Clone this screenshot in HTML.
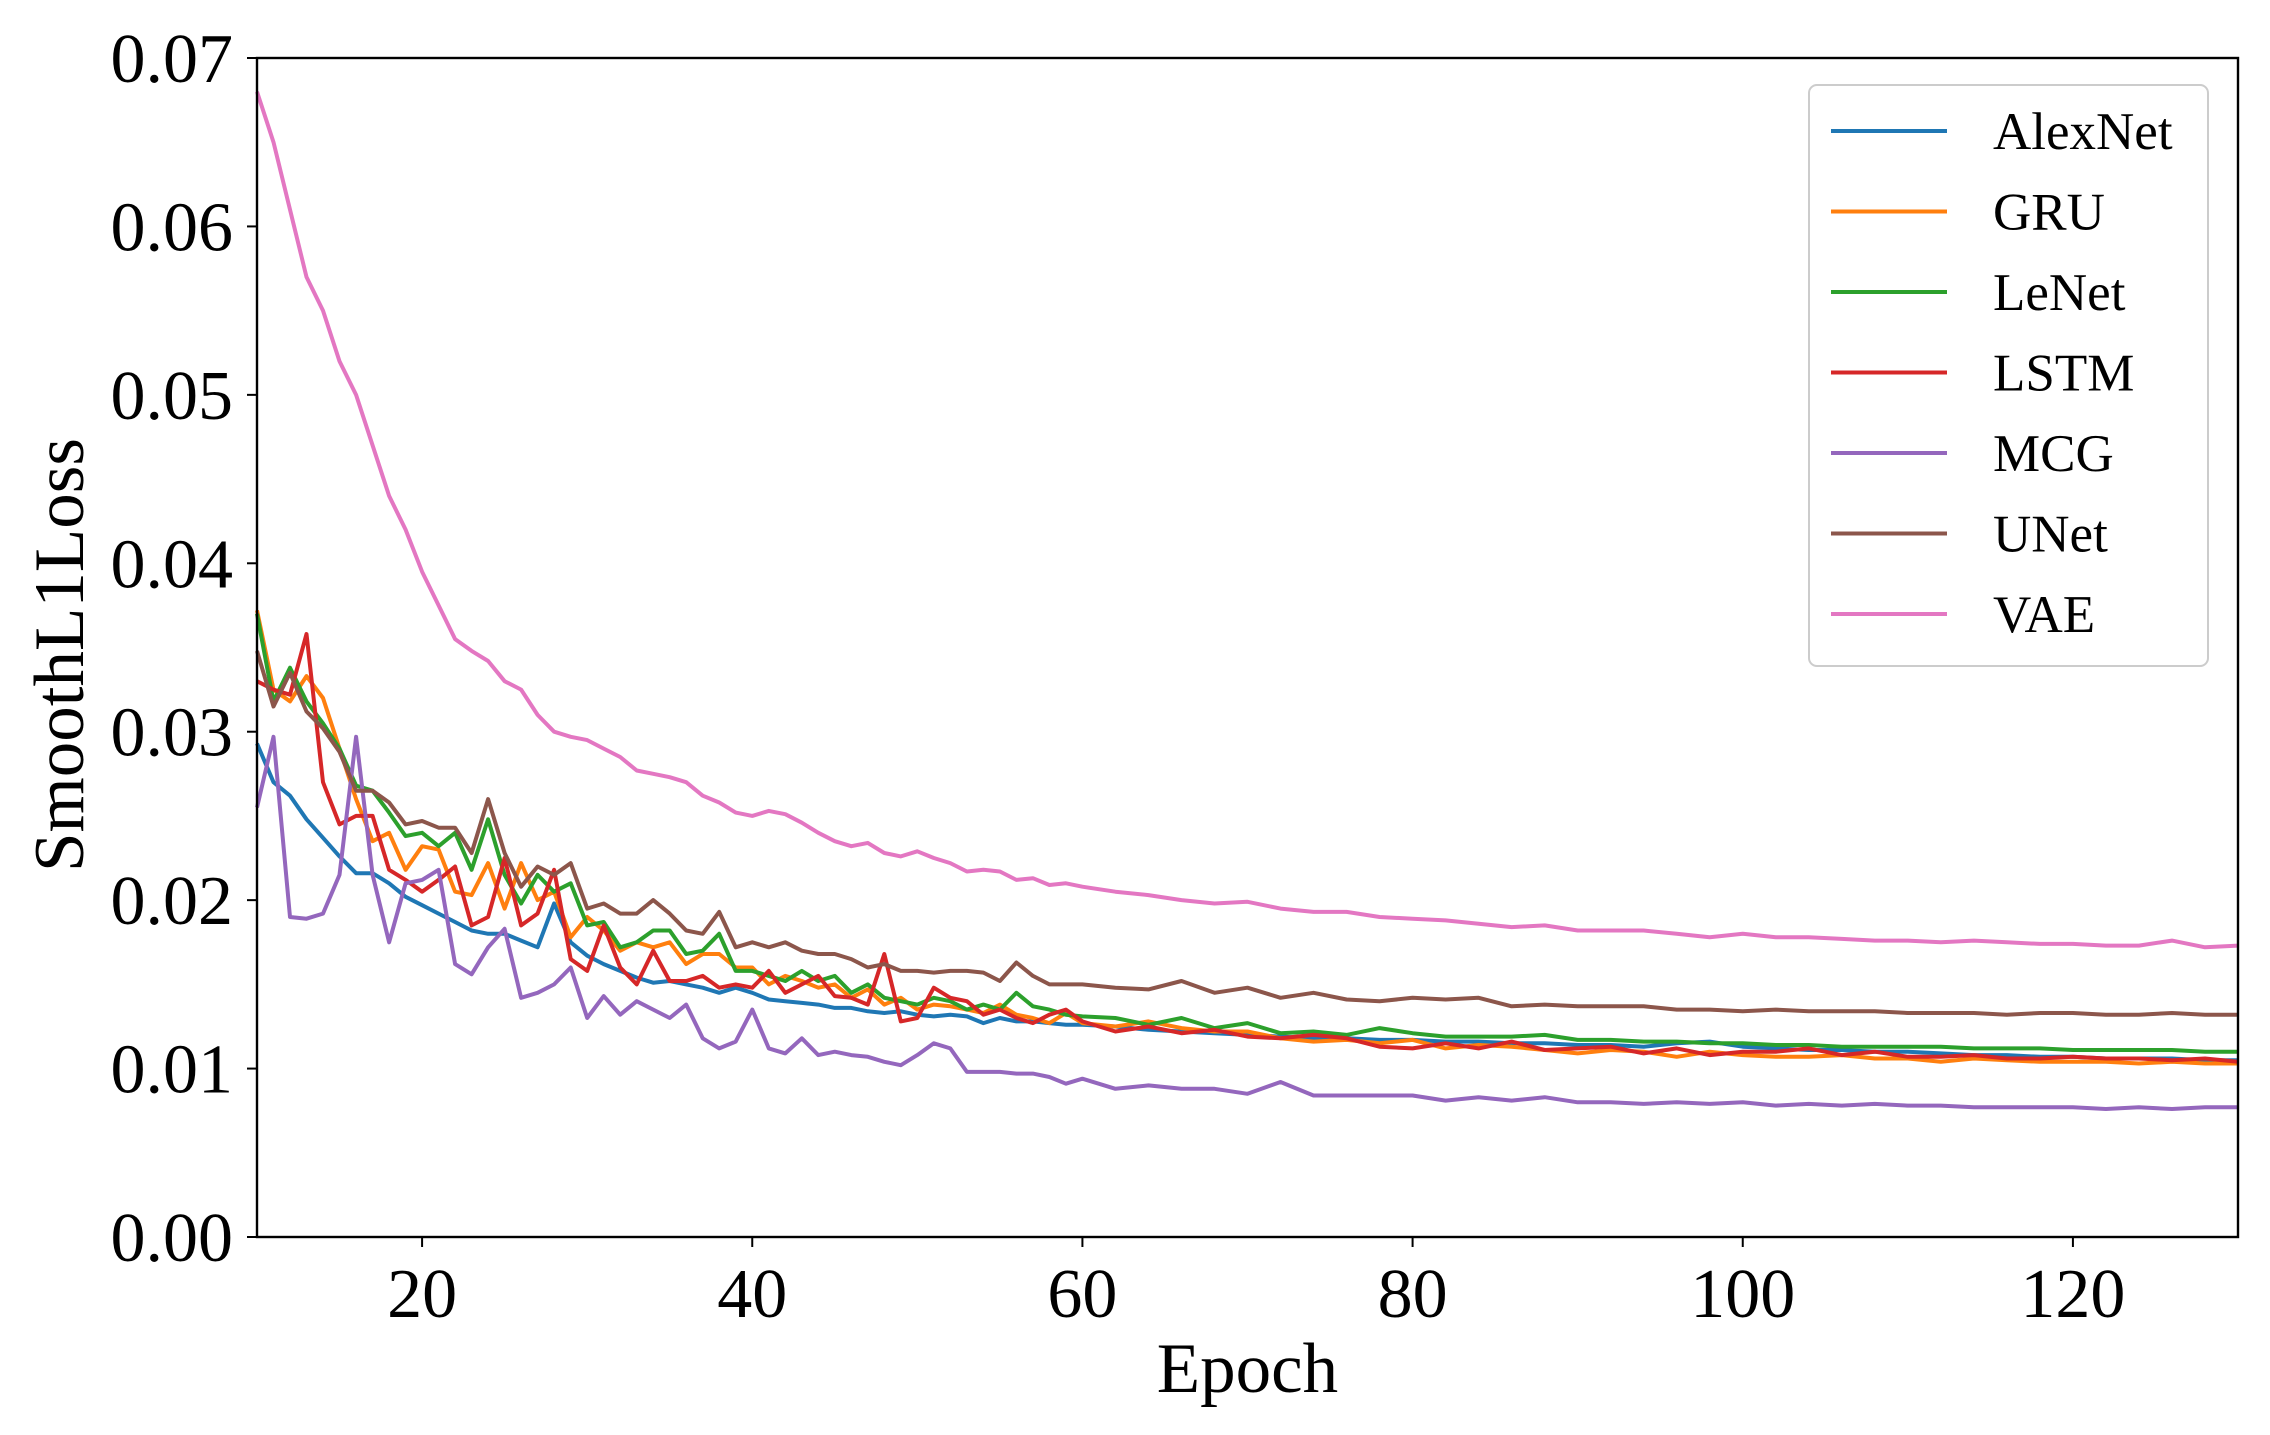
<!DOCTYPE html>
<html><head><meta charset="utf-8"><style>
html,body{margin:0;padding:0;background:#fff;}
svg{display:block;font-family:"Liberation Serif",serif;}
</style></head><body>
<svg id="chart" width="2270" height="1435" viewBox="0 0 2270 1435">
<g id="plot"></g>
</svg>
<script>
const seriesNames = ["AlexNet","GRU","LeNet","LSTM","MCG","UNet","VAE"];
const seriesColors = ["#1f77b4","#ff7f0e","#2ca02c","#d62728","#9467bd","#8c564b","#e377c2"];
const xTicks = [20,40,60,80,100,120];
const yTicks = [0,0.01,0.02,0.03,0.04,0.05,0.06,0.07];
const yTickLabels = ["0.00","0.01","0.02","0.03","0.04","0.05","0.06","0.07"];
const epochsA = [10,11,12,13,14,15,16,17,18,19,20,21,22,23,24,25,26,27,28,29,30,31,32,33,34,35,36,37,38,39,40,41,42,43,44,45,46,47,48,49,50,51,52,53,54,55,56,57,58,59,60];
const epochsB = [62,64,66,68,70,72,74,76,78,80,82,84,86,88,90,92,94,96,98,100,102,104,106,108,110,112,114,116,118,120,122,124,126,128,130];
const epochs = epochsA.concat(epochsB);
const alexnet = [0.0293,0.027,0.0262,0.0248,0.0237,0.0226,0.0216,0.0216,0.021,0.0202,0.0197,0.0192,0.0187,0.0182,0.018,0.018,0.0176,0.0172,0.0198,0.0175,0.0167,0.0162,0.0158,0.0154,0.0151,0.0152,0.015,0.0148,0.0145,0.0148,0.0145,0.0141,0.014,0.0139,0.0138,0.0136,0.0136,0.0134,0.0133,0.0134,0.0132,0.0131,0.0132,0.0131,0.0127,0.013,0.0128,0.0128,0.0127,0.0126,0.0126,
0.0125,0.0123,0.0122,0.0121,0.012,0.0119,0.0118,0.0118,0.0117,0.0117,0.0116,0.0116,0.0115,0.0115,0.0114,0.0114,0.0113,0.0115,0.0116,0.0113,0.0112,0.0111,0.0111,0.011,0.011,0.0109,0.0108,0.0108,0.0107,0.0107,0.0106,0.0106,0.0106,0.0105,0.0105];
const gru = [0.0372,0.0325,0.0318,0.0333,0.032,0.029,0.026,0.0235,0.024,0.0218,0.0232,0.023,0.0205,0.0203,0.0222,0.0195,0.0222,0.02,0.0205,0.0178,0.019,0.0182,0.017,0.0175,0.0172,0.0175,0.0162,0.0168,0.0168,0.016,0.016,0.015,0.0155,0.0152,0.0148,0.015,0.0142,0.0147,0.0138,0.0142,0.0135,0.0138,0.0137,0.0135,0.0133,0.0138,0.0132,0.013,0.0127,0.0133,0.0127,
0.0125,0.0128,0.0124,0.0122,0.0122,0.0118,0.0116,0.0117,0.0115,0.0117,0.0112,0.0114,0.0113,0.0111,0.0109,0.0111,0.011,0.0107,0.011,0.0108,0.0107,0.0107,0.0108,0.0106,0.0106,0.0104,0.0106,0.0105,0.0104,0.0104,0.0104,0.0103,0.0104,0.0103,0.0103];
const lenet = [0.037,0.0318,0.0338,0.0318,0.0305,0.029,0.0268,0.0265,0.0252,0.0238,0.024,0.0232,0.024,0.0218,0.0248,0.0215,0.0198,0.0215,0.0205,0.021,0.0185,0.0187,0.0172,0.0175,0.0182,0.0182,0.0168,0.017,0.018,0.0158,0.0158,0.0155,0.0152,0.0158,0.0152,0.0155,0.0145,0.015,0.0142,0.014,0.0138,0.0142,0.014,0.0135,0.0138,0.0135,0.0145,0.0137,0.0135,0.0132,0.0131,
0.013,0.0126,0.013,0.0124,0.0127,0.0121,0.0122,0.012,0.0124,0.0121,0.0119,0.0119,0.0119,0.012,0.0117,0.0117,0.0116,0.0116,0.0115,0.0115,0.0114,0.0114,0.0113,0.0113,0.0113,0.0113,0.0112,0.0112,0.0112,0.0111,0.0111,0.0111,0.0111,0.011,0.011];
const lstm = [0.033,0.0325,0.0322,0.0358,0.027,0.0245,0.025,0.025,0.0218,0.0212,0.0205,0.0212,0.022,0.0185,0.019,0.0225,0.0185,0.0192,0.0218,0.0165,0.0158,0.0185,0.016,0.015,0.017,0.0152,0.0152,0.0155,0.0148,0.015,0.0148,0.0158,0.0145,0.015,0.0155,0.0143,0.0142,0.0138,0.0168,0.0128,0.013,0.0148,0.0142,0.014,0.0132,0.0135,0.013,0.0127,0.0132,0.0135,0.0128,
0.0122,0.0125,0.0121,0.0123,0.0119,0.0118,0.012,0.0118,0.0113,0.0112,0.0115,0.0112,0.0116,0.0111,0.0112,0.0113,0.0109,0.0112,0.0108,0.011,0.011,0.0112,0.0108,0.011,0.0107,0.0107,0.0108,0.0106,0.0106,0.0107,0.0106,0.0106,0.0105,0.0106,0.0104];
const mcg = [0.0255,0.0297,0.019,0.0189,0.0192,0.0215,0.0297,0.0215,0.0175,0.021,0.0212,0.0218,0.0162,0.0156,0.0172,0.0183,0.0142,0.0145,0.015,0.016,0.013,0.0143,0.0132,0.014,0.0135,0.013,0.0138,0.0118,0.0112,0.0116,0.0135,0.0112,0.0109,0.0118,0.0108,0.011,0.0108,0.0107,0.0104,0.0102,0.0108,0.0115,0.0112,0.0098,0.0098,0.0098,0.0097,0.0097,0.0095,0.0091,0.0094,
0.0088,0.009,0.0088,0.0088,0.0085,0.0092,0.0084,0.0084,0.0084,0.0084,0.0081,0.0083,0.0081,0.0083,0.008,0.008,0.0079,0.008,0.0079,0.008,0.0078,0.0079,0.0078,0.0079,0.0078,0.0078,0.0077,0.0077,0.0077,0.0077,0.0076,0.0077,0.0076,0.0077,0.0077];
const unet = [0.0348,0.0315,0.0335,0.0312,0.0302,0.0288,0.0265,0.0265,0.0258,0.0245,0.0247,0.0243,0.0243,0.0228,0.026,0.0228,0.0208,0.022,0.0215,0.0222,0.0195,0.0198,0.0192,0.0192,0.02,0.0192,0.0182,0.018,0.0193,0.0172,0.0175,0.0172,0.0175,0.017,0.0168,0.0168,0.0165,0.016,0.0162,0.0158,0.0158,0.0157,0.0158,0.0158,0.0157,0.0152,0.0163,0.0155,0.015,0.015,0.015,
0.0148,0.0147,0.0152,0.0145,0.0148,0.0142,0.0145,0.0141,0.014,0.0142,0.0141,0.0142,0.0137,0.0138,0.0137,0.0137,0.0137,0.0135,0.0135,0.0134,0.0135,0.0134,0.0134,0.0134,0.0133,0.0133,0.0133,0.0132,0.0133,0.0133,0.0132,0.0132,0.0133,0.0132,0.0132];
const vae = [0.068,0.065,0.061,0.057,0.055,0.052,0.05,0.047,0.044,0.042,0.0395,0.0375,0.0355,0.0348,0.0342,0.033,0.0325,0.031,0.03,0.0297,0.0295,0.029,0.0285,0.0277,0.0275,0.0273,0.027,0.0262,0.0258,0.0252,0.025,0.0253,0.0251,0.0246,0.024,0.0235,0.0232,0.0234,0.0228,0.0226,0.0229,0.0225,0.0222,0.0217,0.0218,0.0217,0.0212,0.0213,0.0209,0.021,0.0208,
0.0205,0.0203,0.02,0.0198,0.0199,0.0195,0.0193,0.0193,0.019,0.0189,0.0188,0.0186,0.0184,0.0185,0.0182,0.0182,0.0182,0.018,0.0178,0.018,0.0178,0.0178,0.0177,0.0176,0.0176,0.0175,0.0176,0.0175,0.0174,0.0174,0.0173,0.0173,0.0176,0.0172,0.0173];
const seriesValues = [alexnet,gru,lenet,lstm,mcg,unet,vae];

const L=257,R=2238,T=58,B=1237, XMIN=10,XMAX=130,YMIN=0,YMAX=0.07;
function xs(v){return L+(v-XMIN)/(XMAX-XMIN)*(R-L);}
function ys(v){return B-(v-YMIN)/(YMAX-YMIN)*(B-T);}
const NS="http://www.w3.org/2000/svg";
const plot=document.getElementById('plot');
function mk(tag,attrs,parent){const e=document.createElementNS(NS,tag);for(const k in attrs)e.setAttribute(k,attrs[k]);(parent||plot).appendChild(e);return e;}

seriesValues.forEach((vals,i)=>{
  const d=vals.map((v,j)=>(j?'L':'M')+xs(epochs[j]).toFixed(1)+','+ys(v).toFixed(1)).join(' ');
  const p=mk('path',{d:d,fill:'none',stroke:seriesColors[i],'stroke-width':4,'stroke-linejoin':'round'});
  
  
});
const fr=mk('rect',{x:L,y:T,width:R-L,height:B-T,fill:'none',stroke:'#000','stroke-width':2.4});


xTicks.forEach(t=>{
  const g=mk('g',{});
  
  
  mk('line',{x1:xs(t),x2:xs(t),y1:B,y2:B+10,stroke:'#000','stroke-width':2},g);
  const tx=mk('text',{x:xs(t),y:B+80,'text-anchor':'middle','font-size':70},g);
  tx.textContent=t;
});
yTicks.forEach((t,i)=>{
  const g=mk('g',{});
  
  
  mk('line',{x1:L-10,x2:L,y1:ys(t),y2:ys(t),stroke:'#000','stroke-width':2},g);
  const tx=mk('text',{x:L-24,y:ys(t)+24,'text-anchor':'end','font-size':70},g);
  tx.textContent=yTickLabels[i];
});
const xt=mk('text',{x:(L+R)/2,y:1392,'text-anchor':'middle','font-size':71});
xt.textContent='Epoch';


const yt=mk('text',{x:0,y:0,'text-anchor':'middle','font-size':71,transform:'translate(83,655) rotate(-90)'});
yt.textContent='SmoothL1Loss';


const lg=mk('g',{});


mk('rect',{x:1809,y:85,width:399,height:581,rx:8,fill:'#fff',stroke:'#ccc','stroke-width':2},lg);
seriesNames.forEach((n,i)=>{
  const y=131+i*80.5;
  const e=mk('g',{},lg);
  
  
  mk('line',{x1:1831,x2:1947,y1:y,y2:y,stroke:seriesColors[i],'stroke-width':4},e);
  const tx=mk('text',{x:1993,y:y+18,'font-size':53},e);
  tx.textContent=n;
});
</script>
</body></html>
